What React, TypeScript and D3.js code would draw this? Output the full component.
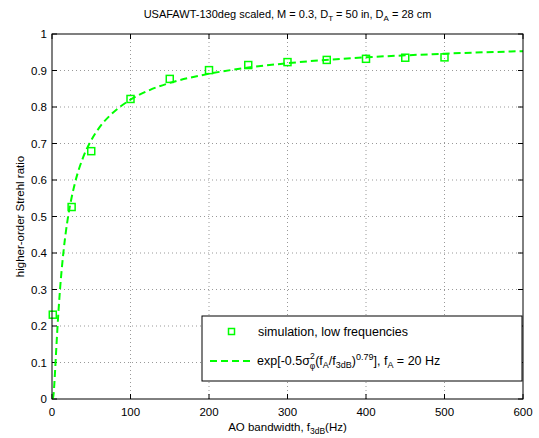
import React from "react";
import * as d3 from "d3";

const simFreq = [1, 25, 50, 100, 150, 200, 250, 300, 350, 400, 450, 500];
const simStrehl = [0.231, 0.526, 0.679, 0.822, 0.877, 0.901, 0.915, 0.923, 0.929, 0.932, 0.935, 0.936];

const fitFreq = [1, 2, 3, 4, 5, 7, 10, 15, 20, 25, 30, 40, 50, 60, 75, 100, 125, 150, 200, 250, 300, 400, 500, 600];
const fitStrehl = [0.0005, 0.013, 0.042, 0.08, 0.12, 0.197, 0.294, 0.411, 0.493, 0.552, 0.598, 0.664, 0.709, 0.743, 0.779, 0.82, 0.847, 0.866, 0.891, 0.908, 0.92, 0.936, 0.946, 0.953];

const xTicks = [0, 100, 200, 300, 400, 500, 600];
const yTicks = [0, 0.1, 0.2, 0.3, 0.4, 0.5, 0.6, 0.7, 0.8, 0.9, 1];

const W = 539, H = 438;
const L = 52, R = 523, T = 34, B = 399;
const GREEN = "#00ff00";
const FONT = "'Liberation Sans', Arial, Helvetica, sans-serif";

export default function App() {
  const x = d3.scaleLinear().domain([0, 600]).range([L, R]);
  const y = d3.scaleLinear().domain([0, 1]).range([B, T]);
  const line = d3
    .line<number>()
    .x((_, i) => x(fitFreq[i]))
    .y((d) => y(d))
    .curve(d3.curveMonotoneX);
  const fitPath = line(fitStrehl) || "";
  const tk = 5;
  return (
    <div style={{ position: "fixed", left: 0, top: 0 }}>
      <svg width={W} height={H} style={{ display: "block", background: "#fff" }} fontFamily={FONT}>
        <rect x={0} y={0} width={W} height={H} fill="#fff" />
        {/* grid */}
        {xTicks.slice(1, -1).map((t) => (
          <line key={"gx" + t} x1={x(t)} x2={x(t)} y1={T} y2={B} stroke="#999" strokeWidth={1} strokeDasharray="1 3" />
        ))}
        {yTicks.slice(1, -1).map((t) => (
          <line key={"gy" + t} x1={L} x2={R} y1={y(t)} y2={y(t)} stroke="#999" strokeWidth={1} strokeDasharray="1 3" />
        ))}
        {/* ticks */}
        {xTicks.map((t) => (
          <g key={"tx" + t}>
            <line x1={x(t)} x2={x(t)} y1={B} y2={B - tk} stroke="#000" />
            <line x1={x(t)} x2={x(t)} y1={T} y2={T + tk} stroke="#000" />
            <text x={x(t)} y={416} fontSize={11.5} textAnchor="middle" fill="#000">{t}</text>
          </g>
        ))}
        {yTicks.map((t) => (
          <g key={"ty" + t}>
            <line x1={L} x2={L + tk} y1={y(t)} y2={y(t)} stroke="#000" />
            <line x1={R} x2={R - tk} y1={y(t)} y2={y(t)} stroke="#000" />
            <text x={47} y={y(t) + 4} fontSize={11.5} textAnchor="end" fill="#000">{String(t)}</text>
          </g>
        ))}
        {/* fit curve */}
        <path d={fitPath} fill="none" stroke={GREEN} strokeWidth={2} strokeDasharray="7 4" />
        {/* sim points */}
        {simFreq.map((f, i) => (
          <rect key={"p" + i} x={x(f) - 3.5} y={y(simStrehl[i]) - 3.5} width={7} height={7} fill="none" stroke={GREEN} strokeWidth={1.5} />
        ))}
        {/* box */}
        <rect x={L} y={T} width={R - L} height={B - T} fill="none" stroke="#000" strokeWidth={1} />
        {/* title */}
        <text x={(L + R) / 2} y={18} fontSize={11} textAnchor="middle" fill="#000">
          USAFAWT-130deg scaled, M = 0.3, D<tspan fontSize={8} dy={3}>T</tspan>
          <tspan dy={-3}> = 50 in, D</tspan>
          <tspan fontSize={8} dy={3}>A</tspan>
          <tspan dy={-3}> = 28 cm</tspan>
        </text>
        {/* x label */}
        <text x={(L + R) / 2} y={431} fontSize={11.5} textAnchor="middle" fill="#000">
          AO bandwidth, f<tspan fontSize={8.5} dy={3}>3dB</tspan>
          <tspan dy={-3}>(Hz)</tspan>
        </text>
        {/* y label */}
        <text transform={`translate(24,${(T + B) / 2}) rotate(-90)`} fontSize={11.5} textAnchor="middle" fill="#000">
          higher-order Strehl ratio
        </text>
        {/* legend */}
        <rect x={202} y={316} width={320} height={65} fill="#fff" stroke="#000" strokeWidth={1} />
        <rect x={228.5} y={328.5} width={6} height={6} fill="none" stroke={GREEN} strokeWidth={1.5} />
        <text x={258} y={336} fontSize={12.5} fill="#000">simulation, low frequencies</text>
        <line x1={210} x2={253} y1={361} y2={361} stroke={GREEN} strokeWidth={2} strokeDasharray="7 4" />
        <text x={257} y={365} fontSize={12.5} fill="#000">
          exp[-0.5σ<tspan fontSize={8.5} dy={-6}>2</tspan>
          <tspan fontSize={8.5} dx={-5} dy={10}>φ</tspan>
          <tspan dy={-4}>(f</tspan>
          <tspan fontSize={9} dy={3}>A</tspan>
          <tspan dy={-3}>/f</tspan>
          <tspan fontSize={9} dy={3}>3dB</tspan>
          <tspan dy={-3}>)</tspan>
          <tspan fontSize={9} dy={-5}>0.79</tspan>
          <tspan dy={5}>], f</tspan>
          <tspan fontSize={9} dy={3}>A</tspan>
          <tspan dy={-3}> = 20 Hz</tspan>
        </text>
      </svg>
    </div>
  );
}
